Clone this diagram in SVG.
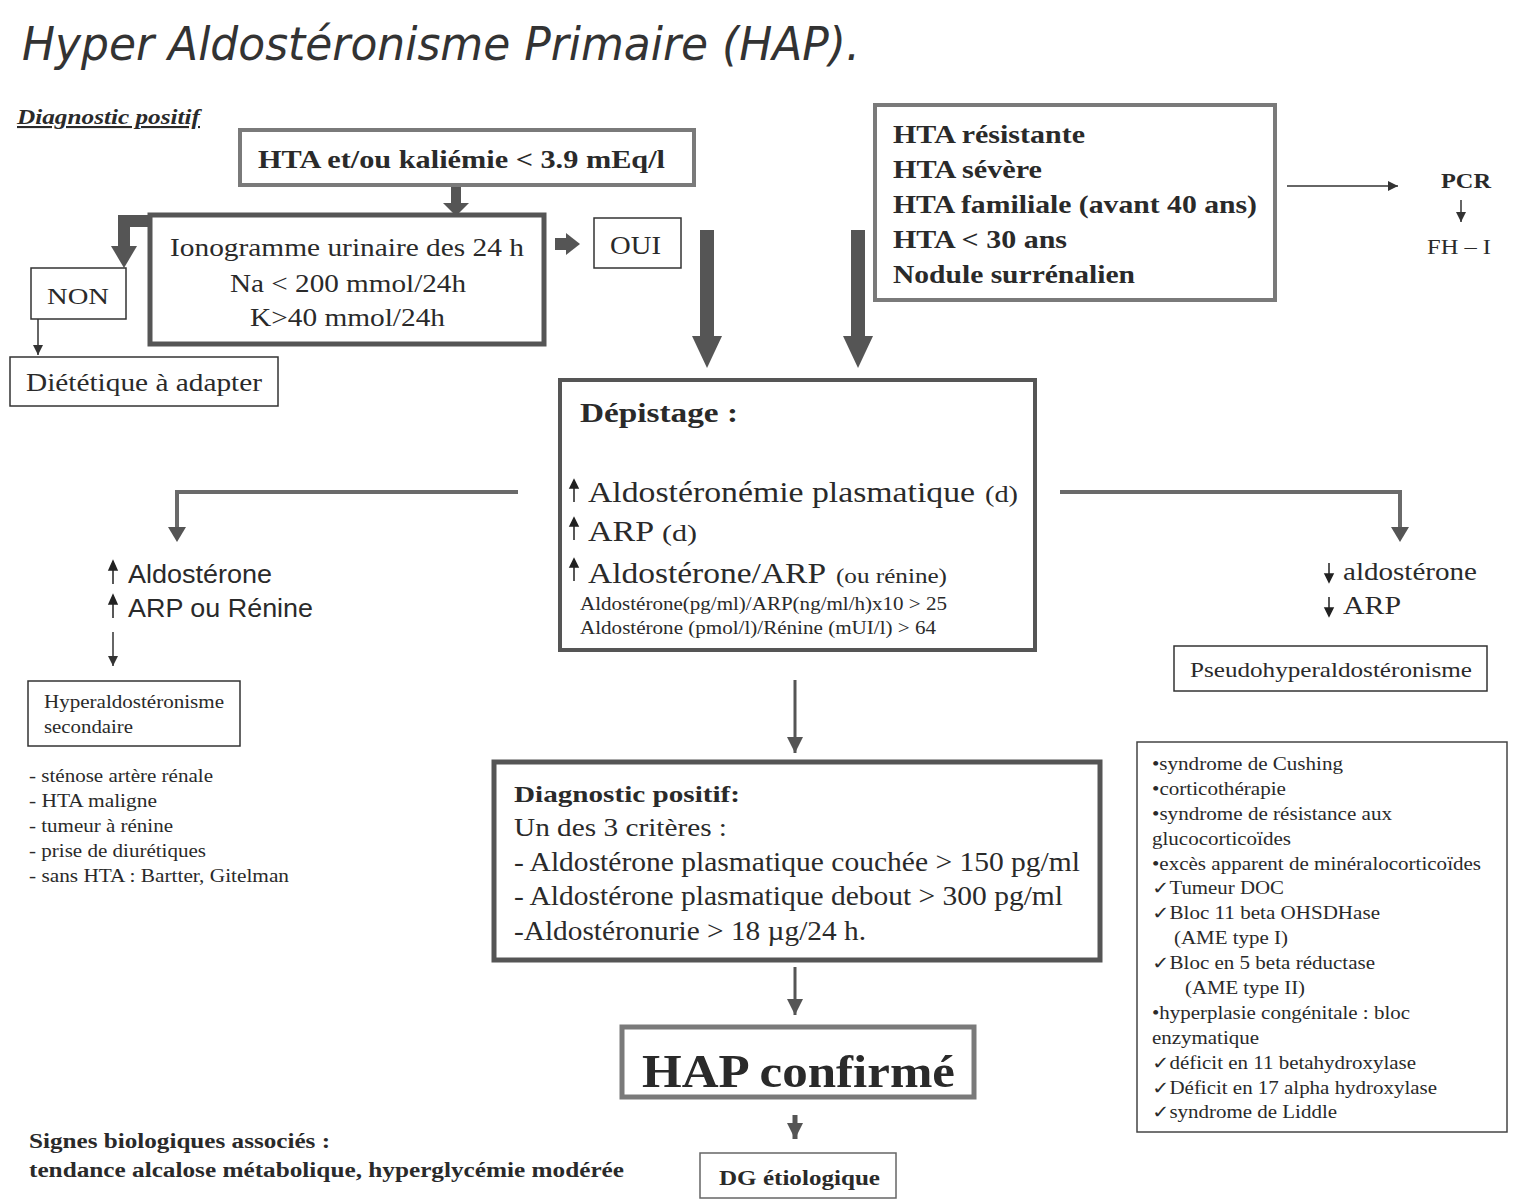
<svg xmlns="http://www.w3.org/2000/svg" width="1518" height="1203" viewBox="0 0 1518 1203">
<style>
text{font-family:"Liberation Serif","Times New Roman",serif;fill:#2a2a2a}
.b{font-weight:bold}
.s{font-family:"Liberation Sans",Arial,sans-serif}
.box{fill:#fff;stroke:#333;stroke-width:1.5}
.gbox{fill:#fff;stroke:#7a7a7a;stroke-width:4}
.dbox{fill:#fff;stroke:#555;stroke-width:5}
.thin{stroke:#333;stroke-width:1.5;fill:none}
.mid{stroke:#555;stroke-width:3;fill:none}
.fat{stroke:#6a6a6a;stroke-width:4;fill:none}
.hd{fill:#555}
.ua{stroke:#222;stroke-width:1.5;fill:#222}
</style>
<defs>
<marker id="ah" viewBox="0 0 10 10" refX="10" refY="5" markerWidth="10" markerHeight="10" markerUnits="userSpaceOnUse" orient="auto"><path d="M0,0L10,5L0,10z" fill="#333"/></marker>
<marker id="ahm" viewBox="0 0 10 10" refX="10" refY="5" markerWidth="18" markerHeight="16" markerUnits="userSpaceOnUse" orient="auto"><path d="M0,0L10,5L0,10z" fill="#555"/></marker>
</defs>

<g id="title">
<text x="22" y="60" font-weight="200" font-size="46" font-style="italic" textLength="838" lengthAdjust="spacingAndGlyphs" style="font-family:'DejaVu Sans',sans-serif;fill:#333">Hyper Aldostéronisme Primaire (HAP).</text>
</g>
<g id="subtitle">
<text x="17" y="124" class="b" font-size="21" font-style="italic" text-decoration="underline" textLength="183" lengthAdjust="spacingAndGlyphs">Diagnostic positif</text>
</g>

<g id="connectors">
<rect x="451" y="185" width="10" height="20" class="hd"/>
<path d="M443,203L469,203L456,216z" class="hd"/>
<path d="M150,221L124,221L124,248" stroke="#555" stroke-width="12" fill="none"/>
<path d="M111,246L137,246L124,268z" class="hd"/>
<line x1="38" y1="319" x2="38" y2="355" class="thin" marker-end="url(#ah)"/>
<rect x="555" y="238" width="12" height="12" class="hd"/>
<path d="M566,233L580,244L566,255z" class="hd"/>
<rect x="700" y="230" width="14" height="108" class="hd"/>
<path d="M692,336L722,336L707,368z" class="hd"/>
<rect x="851" y="230" width="14" height="108" class="hd"/>
<path d="M843,336L873,336L858,368z" class="hd"/>
<line x1="1287" y1="186" x2="1398" y2="186" class="thin" marker-end="url(#ah)"/>
<line x1="1461" y1="200" x2="1461" y2="222" class="thin" marker-end="url(#ah)"/>
<path d="M518,492L177,492L177,530" class="fat"/>
<path d="M168,527L186,527L177,542z" class="hd"/>
<path d="M1060,492L1400,492L1400,530" class="fat"/>
<path d="M1391,527L1409,527L1400,542z" class="hd"/>
<line x1="113" y1="632" x2="113" y2="666" class="thin" marker-end="url(#ah)"/>
<line x1="795" y1="680" x2="795" y2="753" class="mid" marker-end="url(#ahm)"/>
<line x1="795" y1="967" x2="795" y2="1015" class="mid" marker-end="url(#ahm)"/>
<line x1="795" y1="1115" x2="795" y2="1139" stroke="#555" stroke-width="5" marker-end="url(#ahm)"/>
</g>

<g id="box-hta">
<rect x="240" y="130" width="454" height="55" class="gbox"/>
<text x="258" y="168" class="b" font-size="25" textLength="407" lengthAdjust="spacingAndGlyphs">HTA et/ou  kaliémie &lt; 3.9 mEq/l</text>
</g>

<g id="box-iono">
<rect x="150" y="215" width="394" height="129" class="dbox"/>
<text x="170" y="256" font-size="26" textLength="354" lengthAdjust="spacingAndGlyphs">Ionogramme urinaire des 24 h</text>
<text x="230" y="292" font-size="26" textLength="236" lengthAdjust="spacingAndGlyphs">Na &lt; 200 mmol/24h</text>
<text x="250" y="326" font-size="26" textLength="195" lengthAdjust="spacingAndGlyphs">K&gt;40 mmol/24h</text>
</g>

<g id="box-non">
<rect x="31" y="268" width="95" height="51" class="box"/>
<text x="47" y="304" font-size="24" textLength="62" lengthAdjust="spacingAndGlyphs">NON</text>
</g>

<g id="box-diet">
<rect x="10" y="357" width="268" height="49" class="box"/>
<text x="26" y="391" font-size="25" textLength="236" lengthAdjust="spacingAndGlyphs">Diététique à adapter</text>
</g>

<g id="box-oui">
<rect x="594" y="218" width="87" height="50" class="box"/>
<text x="610" y="254" font-size="25" textLength="51" lengthAdjust="spacingAndGlyphs">OUI</text>
</g>

<g id="box-indications">
<rect x="875" y="105" width="400" height="195" class="gbox"/>
<text x="893" y="143" class="b" font-size="25" textLength="192" lengthAdjust="spacingAndGlyphs">HTA résistante</text>
<text x="893" y="178" class="b" font-size="25" textLength="149" lengthAdjust="spacingAndGlyphs">HTA sévère</text>
<text x="893" y="213" class="b" font-size="25" textLength="364" lengthAdjust="spacingAndGlyphs">HTA familiale (avant 40 ans)</text>
<text x="893" y="248" class="b" font-size="25" textLength="174" lengthAdjust="spacingAndGlyphs">HTA &lt; 30 ans</text>
<text x="893" y="283" class="b" font-size="25" textLength="242" lengthAdjust="spacingAndGlyphs">Nodule surrénalien</text>
</g>

<g id="pcr">
<text x="1441" y="188" class="b" font-size="21" textLength="50" lengthAdjust="spacingAndGlyphs">PCR</text>
<text x="1427" y="254" font-size="21" textLength="64" lengthAdjust="spacingAndGlyphs">FH – I</text>
</g>

<g id="box-depistage">
<rect x="560" y="380" width="475" height="270" fill="#fff" stroke="#555" stroke-width="4"/>
<text x="580" y="422" class="b" font-size="28" textLength="158" lengthAdjust="spacingAndGlyphs">Dépistage :</text>
<path d="M574,502V484M570,488L574,480L578,488z" class="ua"/>
<text x="588" y="502" font-size="30" textLength="387" lengthAdjust="spacingAndGlyphs">Aldostéronémie plasmatique</text>
<text x="985" y="502" font-size="24" textLength="33" lengthAdjust="spacingAndGlyphs">(d)</text>
<path d="M574,540V522M570,526L574,518L578,526z" class="ua"/>
<text x="588" y="541" font-size="30" textLength="66" lengthAdjust="spacingAndGlyphs">ARP</text>
<text x="662" y="541" font-size="24" textLength="35" lengthAdjust="spacingAndGlyphs">(d)</text>
<path d="M574,581V563M570,567L574,559L578,567z" class="ua"/>
<text x="588" y="583" font-size="30" textLength="238" lengthAdjust="spacingAndGlyphs">Aldostérone/ARP</text>
<text x="836" y="583" font-size="22" textLength="111" lengthAdjust="spacingAndGlyphs">(ou rénine)</text>
<text x="580" y="610" font-size="18" textLength="367" lengthAdjust="spacingAndGlyphs">Aldostérone(pg/ml)/ARP(ng/ml/h)x10 &gt; 25</text>
<text x="580" y="634" font-size="18" textLength="356" lengthAdjust="spacingAndGlyphs">Aldostérone (pmol/l)/Rénine (mUI/l) &gt; 64</text>
</g>

<g id="left-branch">
<path d="M113,584V566M109,570L113,561L117,570z" class="ua"/>
<text x="128" y="583" class="s" font-size="25" textLength="144" lengthAdjust="spacingAndGlyphs">Aldostérone</text>
<path d="M113,618V600M109,604L113,595L117,604z" class="ua"/>
<text x="128" y="617" class="s" font-size="25" textLength="185" lengthAdjust="spacingAndGlyphs">ARP ou Rénine</text>
</g>

<g id="box-secondaire">
<rect x="28" y="681" width="212" height="65" class="box"/>
<text x="44" y="708" font-size="19" textLength="180" lengthAdjust="spacingAndGlyphs">Hyperaldostéronisme</text>
<text x="44" y="733" font-size="19" textLength="89" lengthAdjust="spacingAndGlyphs">secondaire</text>
</g>
<g id="list-secondaire">
<text x="29" y="782" font-size="18" textLength="184" lengthAdjust="spacingAndGlyphs">- sténose artère rénale</text>
<text x="29" y="807" font-size="18" textLength="128" lengthAdjust="spacingAndGlyphs">- HTA maligne</text>
<text x="29" y="832" font-size="18" textLength="144" lengthAdjust="spacingAndGlyphs">- tumeur à rénine</text>
<text x="29" y="857" font-size="18" textLength="177" lengthAdjust="spacingAndGlyphs">- prise de diurétiques</text>
<text x="29" y="882" font-size="18" textLength="260" lengthAdjust="spacingAndGlyphs">- sans HTA : Bartter, Gitelman</text>
</g>

<g id="right-branch">
<path d="M1329,563V581M1325,574L1329,582L1333,574z" class="ua"/>
<text x="1343" y="580" font-size="26" textLength="134" lengthAdjust="spacingAndGlyphs">aldostérone</text>
<path d="M1329,597V615M1325,608L1329,616L1333,608z" class="ua"/>
<text x="1343" y="614" font-size="26" textLength="58" lengthAdjust="spacingAndGlyphs">ARP</text>
</g>

<g id="box-pseudo">
<rect x="1174" y="646" width="313" height="45" class="box"/>
<text x="1190" y="677" font-size="22" textLength="282" lengthAdjust="spacingAndGlyphs">Pseudohyperaldostéronisme</text>
</g>

<g id="box-causes">
<rect x="1137" y="742" width="370" height="390" fill="#fff" stroke="#444" stroke-width="1.5"/>
<text x="1152" y="770" font-size="18" textLength="191" lengthAdjust="spacingAndGlyphs">•syndrome de Cushing</text>
<text x="1152" y="795" font-size="18" textLength="134" lengthAdjust="spacingAndGlyphs">•corticothérapie</text>
<text x="1152" y="820" font-size="18" textLength="240" lengthAdjust="spacingAndGlyphs">•syndrome de résistance aux</text>
<text x="1152" y="845" font-size="18" textLength="139" lengthAdjust="spacingAndGlyphs">glucocorticoïdes</text>
<text x="1152" y="870" font-size="18" textLength="329" lengthAdjust="spacingAndGlyphs">•excès apparent de minéralocorticoïdes</text>
<text x="1152" y="894" font-size="18" textLength="132" lengthAdjust="spacingAndGlyphs">✓Tumeur DOC</text>
<text x="1152" y="919" font-size="18" textLength="228" lengthAdjust="spacingAndGlyphs">✓Bloc 11 beta OHSDHase</text>
<text x="1174" y="944" font-size="18" textLength="114" lengthAdjust="spacingAndGlyphs">(AME type I)</text>
<text x="1152" y="969" font-size="18" textLength="223" lengthAdjust="spacingAndGlyphs">✓Bloc en 5 beta réductase</text>
<text x="1185" y="994" font-size="18" textLength="120" lengthAdjust="spacingAndGlyphs">(AME type II)</text>
<text x="1152" y="1019" font-size="18" textLength="258" lengthAdjust="spacingAndGlyphs">•hyperplasie congénitale : bloc</text>
<text x="1152" y="1044" font-size="18" textLength="107" lengthAdjust="spacingAndGlyphs">enzymatique</text>
<text x="1152" y="1069" font-size="18" textLength="264" lengthAdjust="spacingAndGlyphs">✓déficit en 11 betahydroxylase</text>
<text x="1152" y="1094" font-size="18" textLength="285" lengthAdjust="spacingAndGlyphs">✓Déficit en 17 alpha hydroxylase</text>
<text x="1152" y="1118" font-size="18" textLength="185" lengthAdjust="spacingAndGlyphs">✓syndrome de Liddle</text>
</g>

<g id="box-diagpos">
<rect x="494" y="762" width="606" height="198" class="dbox"/>
<text x="514" y="802" class="b" font-size="24" textLength="226" lengthAdjust="spacingAndGlyphs">Diagnostic positif:</text>
<text x="514" y="836" font-size="25" textLength="213" lengthAdjust="spacingAndGlyphs">Un des 3 critères :</text>
<text x="514" y="871" font-size="27" textLength="566" lengthAdjust="spacingAndGlyphs">- Aldostérone plasmatique couchée &gt; 150 pg/ml</text>
<text x="514" y="905" font-size="27" textLength="549" lengthAdjust="spacingAndGlyphs">- Aldostérone plasmatique debout &gt; 300 pg/ml</text>
<text x="514" y="940" font-size="27" textLength="352" lengthAdjust="spacingAndGlyphs">-Aldostéronurie &gt; 18 µg/24 h.</text>
</g>

<g id="box-hap">
<rect x="622" y="1027" width="352" height="70" fill="#fff" stroke="#7a7a7a" stroke-width="5"/>
<text x="642" y="1087" class="b" font-size="47" textLength="313" lengthAdjust="spacingAndGlyphs">HAP confirmé</text>
</g>

<g id="box-dg">
<rect x="700" y="1153" width="196" height="45" fill="#fff" stroke="#666" stroke-width="1.5"/>
<text x="719" y="1185" class="b" font-size="21" textLength="161" lengthAdjust="spacingAndGlyphs">DG étiologique</text>
</g>

<g id="signes">
<text x="29" y="1148" class="b" font-size="20" textLength="301" lengthAdjust="spacingAndGlyphs">Signes biologiques associés :</text>
<text x="29" y="1177" class="b" font-size="20" textLength="595" lengthAdjust="spacingAndGlyphs">tendance alcalose métabolique, hyperglycémie modérée</text>
</g>
</svg>
